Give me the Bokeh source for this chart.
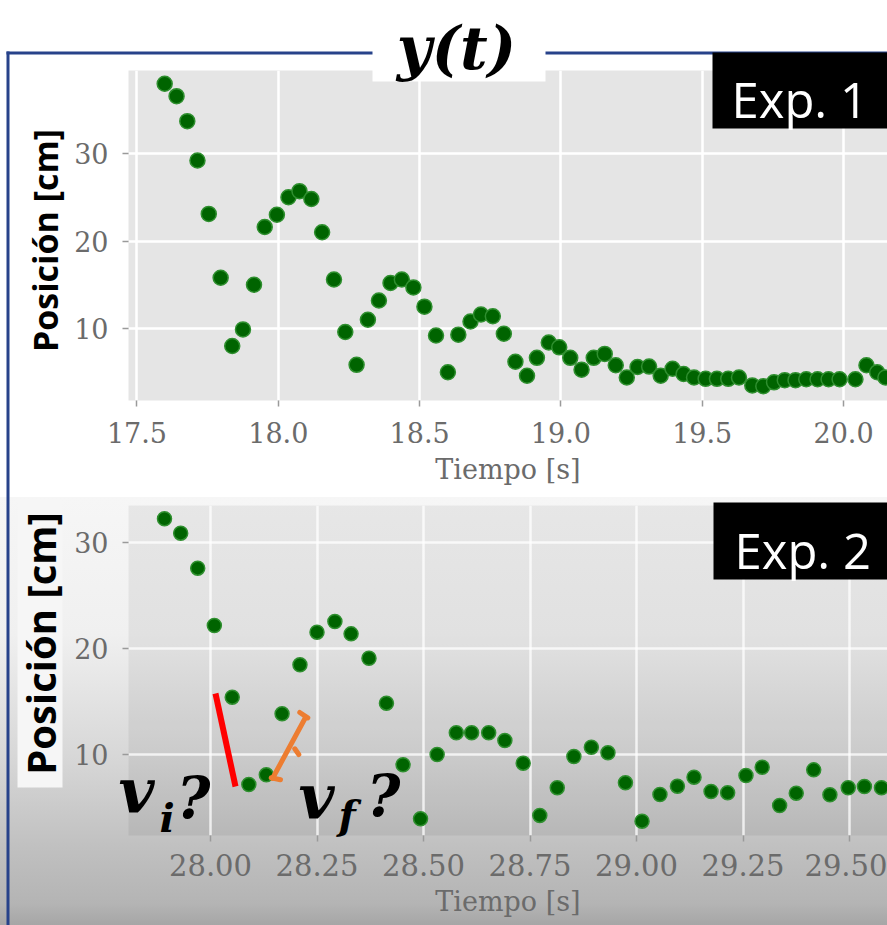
import math
from bokeh.plotting import figure
from bokeh.models import Range1d, Label, BoxAnnotation, FixedTicker, PrintfTickFormatter
from bokeh.layouts import column
from bokeh.embed import file_html
from bokeh.resources import INLINE

# ---------------- data ----------------
t_exp1 = [17.598, 17.640, 17.678, 17.714, 17.754, 17.796, 17.837, 17.875, 17.914, 17.952,
          17.995, 18.036, 18.075, 18.117, 18.155, 18.197, 18.237, 18.277, 18.317, 18.356,
          18.397, 18.437, 18.478, 18.517, 18.558, 18.600, 18.637, 18.680, 18.717, 18.759,
          18.798, 18.839, 18.880, 18.915, 18.957, 18.994, 19.033, 19.073, 19.116, 19.155,
          19.194, 19.233, 19.271, 19.312, 19.353, 19.395, 19.434, 19.471, 19.512, 19.552,
          19.592, 19.630, 19.677, 19.716, 19.754, 19.792, 19.830, 19.868, 19.908, 19.947,
          19.986, 20.042, 20.081, 20.119, 20.148]
pos_exp1 = [37.97, 36.55, 33.7, 29.2, 23.1, 15.8, 8.0, 9.9, 15.0, 21.6,
            23.0, 25.0, 25.7, 24.8, 21.0, 15.6, 9.6, 5.85, 11.0, 13.2,
            15.2, 15.6, 14.7, 12.5, 9.2, 5.0, 9.3, 10.8, 11.6, 11.4,
            9.4, 6.2, 4.6, 6.65, 8.4, 7.85, 6.65, 5.3, 6.65, 7.1,
            5.8, 4.4, 5.6, 5.65, 4.6, 5.4, 4.8, 4.4, 4.25, 4.25,
            4.25, 4.4, 3.5, 3.4, 3.85, 4.1, 4.1, 4.2, 4.2, 4.2,
            4.2, 4.2, 5.8, 5.0, 4.4]

t_exp2 = [27.892, 27.930, 27.970, 28.009, 28.051, 28.090, 28.131, 28.168, 28.210, 28.250,
          28.292, 28.330, 28.372, 28.413, 28.452, 28.493, 28.532, 28.577, 28.613, 28.653,
          28.691, 28.734, 28.773, 28.814, 28.853, 28.894, 28.933, 28.974, 29.013, 29.055,
          29.096, 29.135, 29.175, 29.214, 29.257, 29.295, 29.336, 29.375, 29.416, 29.454,
          29.497, 29.535, 29.575]
pos_exp2 = [32.24, 30.88, 27.58, 22.17, 15.41, 7.17, 8.08, 13.84, 18.46, 21.54,
            22.55, 21.38, 19.08, 14.84, 9.03, 3.93, 10.0, 12.05, 12.05, 12.05,
            11.32, 9.18, 4.25, 6.86, 9.81, 10.69, 10.16, 7.33, 3.71, 6.23,
            7.01, 7.86, 6.51, 6.39, 8.02, 8.80, 5.19, 6.35, 8.55, 6.2,
            6.86, 6.98, 6.86]

xticks_exp1 = [17.5, 18.0, 18.5, 19.0, 19.5, 20.0]
xticks_exp2 = [28.00, 28.25, 28.50, 28.75, 29.00, 29.25, 29.50]
yticks = [10, 20, 30]

# hand-drawn marks on Exp. 2 (data coordinates)
vi_seg_t = [28.0117, 28.0587]
vi_seg_pos = [15.755, 6.981]
vf_segs_t = [[28.1455, 28.2230], [28.2096, 28.2284], [28.1425, 28.1643], [28.1979, 28.2073]]
vf_segs_pos = [[7.736, 13.491], [13.962, 13.462], [7.802, 7.613], [10.538, 10.0]]

title_text = "y(t)"
exp_names = ["Exp. 1", "Exp. 2"]
ylabel_text = "Posición [cm]"
xlabel_text = "Tiempo [s]"

# ---------------- layout helpers (page pixel -> data) ----------------
def tx1(px): return 17.5 + (px - 135.5) / 283.0
def vy1(py): return 30.0 - (py - 153.0) / 8.75
def tx2(px): return 28.0 + (px - 210.0) / 426.0
def vy2(py): return 30.0 - (py - 542.0) / 10.6

W = 887
H = 925
H1 = 497
H2 = H - H1
FRAME_BLUE = "#27428a"
TICK_FONT = "DejaVu Serif"
TICK_COLOR = "#6b6b6b"


def style_axes(p, xticks, fmt, xfs):
    p.xaxis.ticker = FixedTicker(ticks=xticks)
    p.yaxis.ticker = FixedTicker(ticks=yticks)
    p.xaxis.formatter = PrintfTickFormatter(format=fmt)
    p.yaxis.formatter = PrintfTickFormatter(format="%d")
    p.axis.axis_line_color = None
    p.axis.major_tick_in = 0
    p.axis.major_tick_out = 6
    p.axis.major_tick_line_color = "#9a9a9a"
    p.axis.major_tick_line_width = 1.5
    p.axis.minor_tick_line_color = None
    p.axis.major_label_text_font = TICK_FONT
    p.axis.major_label_text_color = TICK_COLOR
    p.yaxis.major_label_text_font_size = "27px"
    p.xaxis.major_label_text_font_size = xfs
    p.yaxis.major_label_standoff = 14
    p.xaxis.axis_label = xlabel_text
    p.xaxis.axis_label_text_font = TICK_FONT
    p.xaxis.axis_label_text_font_style = "normal"
    p.xaxis.axis_label_text_font_size = "27px"
    p.xaxis.axis_label_text_color = TICK_COLOR
    p.grid.grid_line_color = "white"
    p.grid.grid_line_width = 2.5
    p.grid.minor_grid_line_color = None
    p.outline_line_color = None


# ---------------- Exp. 1 ----------------
p1 = figure(width=W, height=H1, output_backend="svg", toolbar_location=None,
            x_range=Range1d(tx1(127), tx1(887)), y_range=Range1d(vy1(400), vy1(70)),
            min_border_left=127, min_border_right=0, min_border_top=70, min_border_bottom=97,
            background_fill_color="#e5e5e5", border_fill_color="white")
style_axes(p1, xticks_exp1, "%.1f", "27px")
p1.xaxis.major_label_standoff = 15
p1.xaxis.axis_label_standoff = 8
p1.scatter(t_exp1, pos_exp1, size=15, fill_color="#006400", line_color="#2f8f2f", line_width=1.5)

# ---------------- Exp. 2 ----------------
p2 = figure(width=W, height=H2, output_backend="svg", toolbar_location=None,
            x_range=Range1d(tx2(128), tx2(887)), y_range=Range1d(vy2(835), vy2(505)),
            min_border_left=128, min_border_right=0, min_border_top=8, min_border_bottom=90,
            background_fill_color="#000000", background_fill_alpha=0.06,
            border_fill_color=None,
            styles={"background": "linear-gradient(to bottom, #f6f6f6 0%, #f0f0f0 32%, #d6d6d6 62%, #c0c0c0 82%, #b4b4b4 95%, #a6a6a6 100%)"})
style_axes(p2, xticks_exp2, "%.2f", "29px")
p2.xaxis.major_label_standoff = 12
p2.xaxis.axis_label_standoff = 7
p2.grid.grid_line_alpha = 0.75
p2.scatter(t_exp2, pos_exp2, size=14, fill_color="#006400", line_color="#2f8f2f", line_width=1.5)
p2.line(vi_seg_t, vi_seg_pos, line_color="#ff0000", line_width=6)
p2.multi_line(vf_segs_t, vf_segs_pos, line_color="#ed7d31", line_width=5, line_cap="round")

# ---------------- overlay for decorations (page pixel coordinates) ----------------
deco = figure(width=W, height=H, output_backend="svg", toolbar_location=None,
              x_range=Range1d(0, W), y_range=Range1d(H, 0),
              x_axis_type=None, y_axis_type=None, min_border=0,
              background_fill_color=None, border_fill_color=None, outline_line_color=None,
              styles={"position": "absolute", "top": "0px", "left": "0px",
                      "pointer-events": "none", "z-index": "5"})


def box(l, r, t, b, color):
    deco.add_layout(BoxAnnotation(left=l, right=r, top=t, bottom=b,
                                  fill_color=color, fill_alpha=1, line_color=None))


def label(x, y, text, font, style, size, color="black", align="left", angle=0.0):
    deco.add_layout(Label(x=x, y=y, text=text, text_font=font, text_font_style=style,
                          text_font_size=size, text_color=color, text_align=align,
                          text_baseline="middle", angle=angle))


# outer frame lines
box(6, W, 51, 54, FRAME_BLUE)
box(6, 9, 51, H, FRAME_BLUE)
# title
box(372, 545, 4, 81, "white")
label(456, 47, title_text, "DejaVu Serif", "bold italic", "60px", align="center")
# experiment tags
box(712, W, 52, 128, "black")
label(731, 98, exp_names[0], "Open Sans", "normal", "49px", color="white")
box(713, W, 502, 579, "black")
label(734, 549, exp_names[1], "Open Sans", "normal", "49px", color="white")
# y axis titles
label(44, 240, ylabel_text, "Open Sans", "bold", "34px", align="center", angle=math.pi / 2)
box(17, 62, 498, 787, "#f6f6f6")
label(40, 643, ylabel_text, "Open Sans", "bold", "40px", align="center", angle=math.pi / 2)
# v_i ? and v_f ?
for txt, px, py, fs in [("v", 118, 790, "62px"), ("i", 159, 817, "40px"), ("?", 176, 797, "58px"),
                        ("v", 298, 796, "62px"), ("f", 338, 814, "40px"), ("?", 366, 795, "58px")]:
    label(px, py, txt, "DejaVu Serif", "bold italic", fs)

open("out.html", "w").write(file_html([column(p1, p2, spacing=0), deco], INLINE))
